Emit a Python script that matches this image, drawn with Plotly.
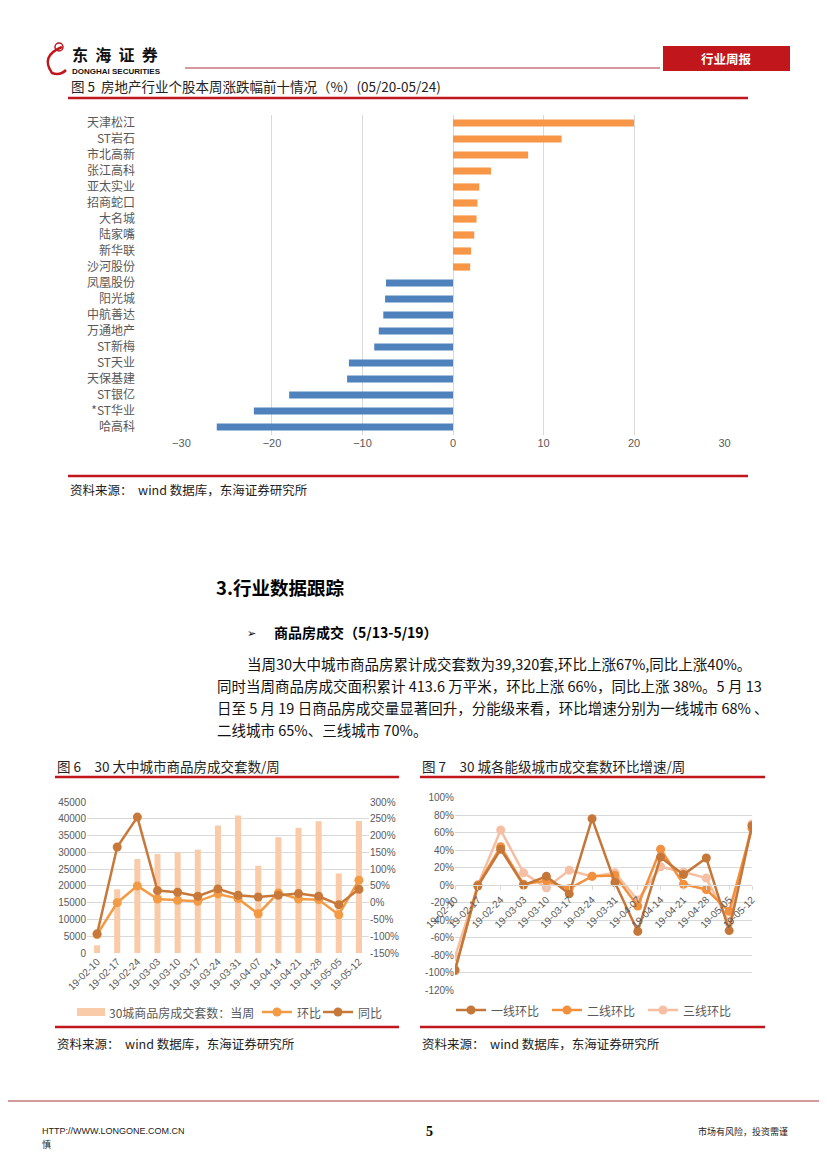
import plotly.graph_objects as go

# page is 827x1170; the browser adds an 8px body margin, so the figure is 819x1162
OFF = 8
W, H = 827 - OFF, 1170 - OFF


def px(x):
    return (x - OFF) / W


def py(y):
    return 1 - (y - OFF) / H


# ---------------- data ----------------
stocks = ["天津松江", "ST岩石", "市北高新", "张江高科", "亚太实业", "招商蛇口", "大名城", "陆家嘴",
          "新华联", "沙河股份", "凤凰股份", "阳光城", "中航善达", "万通地产", "ST新梅", "ST天业",
          "天保基建", "ST银亿", "*ST华业", "哈高科"]
changes = [20.0, 12.0, 8.3, 4.2, 2.9, 2.7, 2.6, 2.35, 2.0, 1.9,
           -7.4, -7.5, -7.7, -8.2, -8.7, -11.5, -11.7, -18.1, -22.0, -26.1]

weeks = ["19-02-10", "19-02-17", "19-02-24", "19-03-03", "19-03-10", "19-03-17", "19-03-24",
         "19-03-31", "19-04-07", "19-04-14", "19-04-21", "19-04-28", "19-05-05", "19-05-12"]
units = [2300, 19000, 28000, 29500, 30000, 30800, 38000, 41000, 26000, 34500, 37300, 39300, 23700, 39320]
mom = [-95, 0, 50, 11, 7, 4, 26, 12, -33, 29, 11, 9, -36, 67]
yoy = [-93, 166, 255, 36, 31, 19, 41, 22, 17, 22, 27, 19, -6, 40]

tier1 = [-97, -1, 41, 0, 10, -10, 76, 3, -53, 32, 12, 31, -52, 68]
tier2 = [-98, 0, 44, 1, 5, -4, 10, 11, -24, 41, 1, -5, -30, 65]
tier3 = [-82, 0, 63, 14, -3, 17, 10, 14, -17, 21, 15, 8, -43, 70]

bar_ticks = [-30, -20, -10, 0, 10, 20, 30]
left_ticks = [0, 5000, 10000, 15000, 20000, 25000, 30000, 35000, 40000, 45000]
right_ticks = [-150, -100, -50, 0, 50, 100, 150, 200, 250, 300]
tier_ticks = [-120, -100, -80, -60, -40, -20, 0, 20, 40, 60, 80, 100]

# ---------------- styles ----------------
FONT = "Liberation Sans, Noto Sans CJK SC, sans-serif"
CJK = "Noto Sans CJK SC, sans-serif"
GRAY = "#595959"
GRID = "#D9D9D9"
RED = "#C0161C"
ORANGE = "#F79646"
BLUE = "#4F81BD"
C_BAR = "#F9CBA8"
C_MOM = "#F39A45"
C_YOY = "#C8793A"
C_T1 = "#C5773A"
C_T2 = "#F2903E"
C_T3 = "#F6BFA3"

fig = go.Figure()

# ---- Figure 5 : bar chart ----
fig.add_trace(go.Bar(
    x=changes, y=stocks, orientation="h",
    marker=dict(color=[ORANGE if v > 0 else BLUE for v in changes], line=dict(width=0)),
    xaxis="x", yaxis="y", showlegend=False, width=0.45,
))

# ---- Figure 6 ----
fig.add_trace(go.Bar(
    x=weeks, y=units, name="30城商品房成交套数：当周",
    marker=dict(color=C_BAR, line=dict(width=0)), width=0.3,
    xaxis="x2", yaxis="y2", showlegend=False,
))
fig.add_trace(go.Scatter(
    x=weeks, y=mom, name="环比", mode="lines+markers",
    line=dict(color=C_MOM, width=2.5), marker=dict(size=9, color=C_MOM),
    xaxis="x2", yaxis="y3", showlegend=False,
))
fig.add_trace(go.Scatter(
    x=weeks, y=yoy, name="同比", mode="lines+markers",
    line=dict(color=C_YOY, width=2.5), marker=dict(size=9, color=C_YOY),
    xaxis="x2", yaxis="y3", showlegend=False,
))

# ---- Figure 7 ----
for name, vals, col in [("三线环比", tier3, C_T3), ("二线环比", tier2, C_T2), ("一线环比", tier1, C_T1)]:
    fig.add_trace(go.Scatter(
        x=weeks, y=vals, name=name, mode="lines+markers",
        line=dict(color=col, width=2.5), marker=dict(size=9, color=col),
        xaxis="x4", yaxis="y4", showlegend=False,
    ))

tickfont = dict(family=FONT, size=11, color=GRAY)
small = dict(family=FONT, size=10, color=GRAY)

fig.update_layout(
    width=W, height=H, margin=dict(l=0, r=0, t=0, b=0, autoexpand=False),
    paper_bgcolor="white", plot_bgcolor="rgba(0,0,0,0)",
    font=dict(family=FONT, color=GRAY),
    barmode="overlay", showlegend=False,
    xaxis=dict(domain=[px(181), px(725)], anchor="y", range=[-30.05, 30.05],
               tickvals=bar_ticks, showgrid=True, gridcolor=GRID, gridwidth=1,
               zeroline=False, showline=False, ticks="", tickfont=tickfont, automargin=False),
    yaxis=dict(domain=[py(435), py(115)], anchor="x", type="category",
               categoryorder="array", categoryarray=stocks, range=[19.5, -0.5],
               showgrid=False, zeroline=False, showline=False, ticks="",
               tickfont=dict(family=CJK, size=12, color=GRAY), ticklabelstandoff=45, automargin=False),
    xaxis2=dict(domain=[px(87), px(369)], anchor="y2", type="category",
                categoryorder="array", categoryarray=weeks, range=[-0.5, 13.5],
                tickangle=-45, showgrid=False, zeroline=False, showline=False, ticks="",
                tickfont=small, automargin=False),
    yaxis2=dict(domain=[py(953), py(802)], anchor="x2", range=[0, 45000], tickvals=left_ticks,
                tickformat="d", showgrid=True, gridcolor=GRID, zeroline=False, showline=False, ticks="",
                tickfont=small, automargin=False),
    yaxis3=dict(overlaying="y2", anchor="x2", side="right", range=[-150, 300], tickvals=right_ticks,
                ticktext=[f"{v}%" for v in right_ticks], showgrid=False, zeroline=False,
                showline=False, ticks="", tickfont=small, automargin=False),
    xaxis4=dict(domain=[px(455), px(752)], anchor="free", position=py(885), type="category",
                categoryorder="array", categoryarray=weeks, range=[0, 13],
                tickangle=-45, showgrid=False, zeroline=False, showline=True, linecolor=GRID,
                ticks="outside", ticklen=4, tickcolor=GRID, tickfont=small, automargin=False),
    yaxis4=dict(domain=[py(990), py(797.7)], anchor="x4", range=[-120, 100], tickvals=tier_ticks,
                ticktext=[f"{v}%" for v in tier_ticks], showgrid=True, gridcolor=GRID,
                zeroline=False, showline=False, ticks="", tickfont=small, automargin=False),
)

shapes = []
annotations = []


def hline(x0, x1, y, color, width):
    shapes.append(dict(type="line", xref="paper", yref="paper", x0=px(x0), x1=px(x1),
                       y0=py(y), y1=py(y), line=dict(color=color, width=width)))


def text(x, y, s, size=12, color="#000000", xanchor="left", family=CJK):
    annotations.append(dict(x=px(x), y=py(y), xref="paper", yref="paper", text=s, showarrow=False,
                            xanchor=xanchor, yanchor="middle",
                            font=dict(family=family, size=size, color=color)))


def legend_line(x0, y, color, label):
    shapes.append(dict(type="line", xref="paper", yref="paper", x0=px(x0), x1=px(x0 + 30),
                       y0=py(y), y1=py(y), line=dict(color=color, width=2.5)))
    shapes.append(dict(type="circle", xref="paper", yref="paper", x0=px(x0 + 10.5), x1=px(x0 + 19.5),
                       y0=py(y + 4.5), y1=py(y - 4.5), fillcolor=color, line=dict(width=0)))
    text(x0 + 33, y, label, size=12, color=GRAY)


NB = "\u00a0"

# ---- header ----
shapes.append(dict(type="path", xref="paper", yref="paper",
                   path="M {},{} Q {},{} {},{} Q {},{} {},{}".format(
                       px(62), py(47), px(40), py(56), px(52), py(73),
                       px(60), py(76), px(66), py(70)),
                   line=dict(color=RED, width=2.5)))
shapes.append(dict(type="circle", xref="paper", yref="paper", x0=px(55), x1=px(63), y0=py(51), y1=py(43),
                   line=dict(color=RED, width=1.5)))
text(70, 54.5, "<b>" + (NB * 2).join("东海证券") + "</b>", size=16, color="#111111")
text(70, 71.5, "<b>DONGHAI SECURITIES</b>", size=8, color="#111111", family="Liberation Sans")
hline(185, 660, 68, "#A8343A", 1.2)
shapes.append(dict(type="rect", xref="paper", yref="paper", x0=px(663), x1=px(790), y0=py(71), y1=py(46),
                   fillcolor=RED, line=dict(width=0)))
text(726.5, 58.5, "<b>行业周报</b>", size=12.5, color="white", xanchor="center")

# ---- figure 5 frame ----
text(69, 86, "图 5  房地产行业个股本周涨跌幅前十情况（%）(05/20-05/24)", size=13.5, color="#222222")
hline(68, 748, 98, RED, 2.5)
hline(68, 748, 476, RED, 2.5)
text(68, 489, "资料来源：  wind 数据库，东海证券研究所", size=12.5, color="#222222")

# ---- section text ----
text(214, 587, "<b>3.行业数据跟踪</b>", size=18.5, color="#000000")
text(245, 632, "➢", size=11, color="#000000")
text(272, 632, "<b>商品房成交（5/13-5/19）</b>", size=14, color="#000000")
text(245, 663, "当周30大中城市商品房累计成交套数为39,320套,环比上涨67%,同比上涨40%。", size=14.5, color="#111111")
text(215, 685, "同时当周商品房成交面积累计 413.6 万平米，环比上涨 66%，同比上涨 38%。5 月 13", size=14.5, color="#111111")
text(215, 707, "日至 5 月 19 日商品房成交量显著回升，分能级来看，环比增速分别为一线城市 68% 、", size=14.5, color="#111111")
text(215, 729, "二线城市 65%、三线城市 70%。", size=14.5, color="#111111")

# ---- figure 6 frame ----
text(55, 766, "图 6　30 大中城市商品房成交套数/周", size=13.5, color="#222222")
hline(55, 399, 777, RED, 2.5)
shapes.append(dict(type="rect", xref="paper", yref="paper", x0=px(77), x1=px(105), y0=py(1016), y1=py(1008),
                   fillcolor=C_BAR, line=dict(width=0)))
text(107, 1012, "30城商品房成交套数：当周", size=12, color=GRAY)
legend_line(262, 1012, C_MOM, "环比")
legend_line(323, 1012, C_YOY, "同比")
hline(55, 399, 1027, RED, 2.5)
text(55, 1043, "资料来源：  wind 数据库，东海证券研究所", size=12.5, color="#222222")

# ---- figure 7 frame ----
text(420, 766, "图 7　30 城各能级城市成交套数环比增速/周", size=13.5, color="#222222")
hline(420, 765, 777, RED, 2.5)
legend_line(456, 1010, C_T1, "一线环比")
legend_line(552, 1010, C_T2, "二线环比")
legend_line(648, 1010, C_T3, "三线环比")
hline(420, 765, 1027, RED, 2.5)
text(420, 1043, "资料来源：  wind 数据库，东海证券研究所", size=12.5, color="#222222")

# ---- footer ----
hline(OFF, 827, 1101, "#A8343A", 1.2)
text(40, 1131, "HTTP://WWW.LONGONE.COM.CN", size=9, color="#222222", family="Liberation Sans")
text(40, 1144, "慎", size=9, color="#222222")
text(430, 1131, "<b>5</b>", size=14, color="#000000", xanchor="center", family="Liberation Serif")
text(790, 1131, "市场有风险，投资需谨", size=9, color="#222222", xanchor="right")

fig.update_layout(shapes=shapes, annotations=annotations)

fig.write_html("out.html")
